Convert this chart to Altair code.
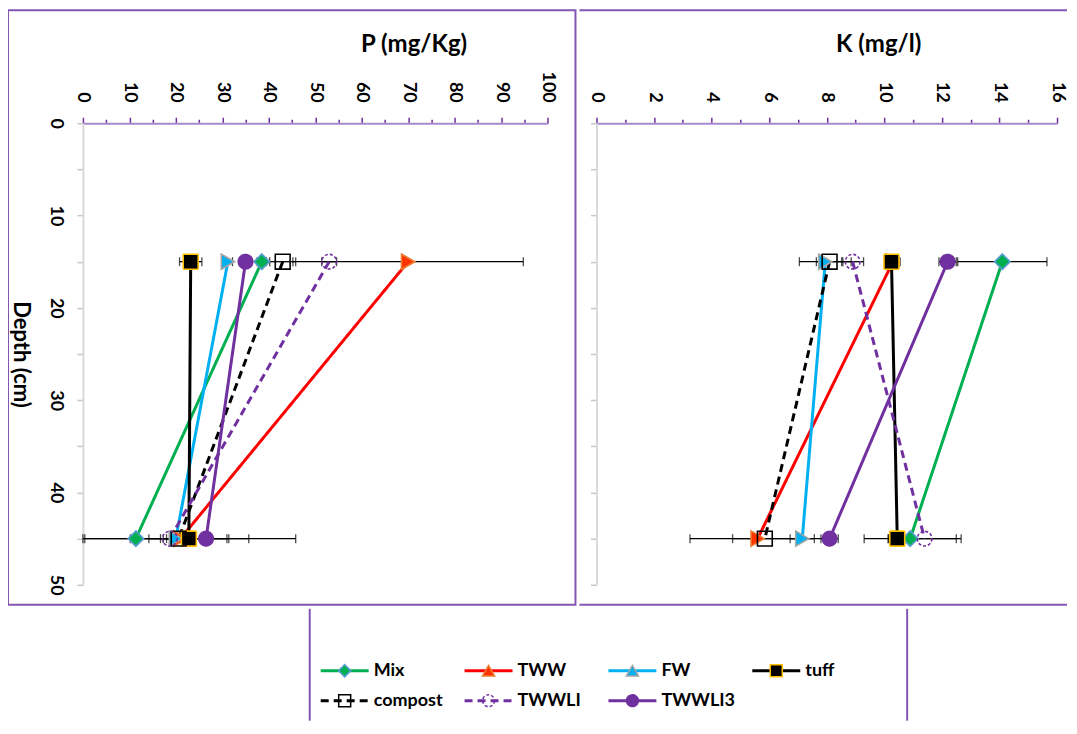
import altair as alt
import pandas as pd

# ---------------- data ----------------
series = ["Mix", "TWW", "FW", "tuff", "compost", "TWWLI", "TWWLI3"]
depths = [15, 45]

p_15 = [38.5, 70.0, 31.2, 23.2, 43.0, 53.0, 35.0]
p_45 = [11.4, 21.0, 20.0, 22.8, 20.6, 18.7, 26.5]
p_err_15 = [1.0, 24.8, 1.0, 2.4, 2.8, 1.6, 1.0]
p_err_45 = [11.0, 24.8, 2.0, 8.6, 10.4, 2.0, 9.2]

k_15 = [14.1, 10.3, 7.95, 10.25, 8.1, 8.9, 12.2]
k_45 = [10.9, 5.6, 7.15, 10.45, 5.85, 11.4, 8.1]
k_err_15 = [1.55, 0.25, 0.9, 0.2, 0.46, 0.38, 0.3]
k_err_45 = [1.6, 2.35, 0.42, 0.3, 1.12, 1.27, 0.3]

p_ticks = list(range(0, 101, 5))
k_ticks = list(range(0, 17))
depth_ticks = list(range(0, 51, 5))

legend_col = [0, 1, 2, 3, 0, 1, 2]
legend_row = [0, 0, 0, 0, 1, 1, 1]

# ---------------- styles ----------------
FONT = "Lato"
FRAME = "#8257B4"
line_colors = ["#00B050", "#FF0000", "#00B0F0", "#000000", "#000000", "#7030A0", "#7030A0"]
line_dash = [[1, 0], [1, 0], [1, 0], [1, 0], [8, 5], [8, 5], [1, 0]]
shapes = ["diamond", "triangle-right", "triangle-right", "square", "square", "circle", "circle"]
legend_shapes = ["diamond", "triangle-up", "triangle-up", "square", "square", "circle", "circle"]
fills = ["#00B050", "#FF3300", "#00B0F0", "#000000", "transparent", "transparent", "#7030A0"]
strokes = ["#5B9BD5", "#ED7D31", "#A5A5A5", "#FFC000", "#000000", "#7030A0", "#7030A0"]
sizes = [240, 210, 210, 260, 250, 280, 280]
legend_sizes = [150, 140, 140, 160, 150, 170, 170]


def build_df(v15, v45, e15, e45):
    recs = []
    for i, s in enumerate(series):
        for d, v, e in zip(depths, (v15[i], v45[i]), (e15[i], e45[i])):
            recs.append({"series": s, "depth": d, "value": v, "lo": v - e, "hi": v + e})
    return pd.DataFrame(recs)


p_df = build_df(p_15, p_45, p_err_15, p_err_45)
k_df = build_df(k_15, k_45, k_err_15, k_err_45)

color_scale = alt.Scale(domain=series, range=line_colors)
dash_scale = alt.Scale(domain=series, range=line_dash)
fill_scale = alt.Scale(domain=series, range=fills)
stroke_scale = alt.Scale(domain=series, range=strokes)
dummy = pd.DataFrame({"frame": [0]})


def panel(df, ticks, major, xmax, width, title, title_x, first):
    caps = df.melt(id_vars=["series", "depth"], value_vars=["lo", "hi"], value_name="end")
    xscale = alt.Scale(domain=[0, xmax], nice=False, clamp=True)
    yscale = alt.Scale(domain=[0, 50], reverse=True, nice=False)
    xaxis = alt.Axis(
        orient="top", values=ticks, grid=False,
        title=title, titleX=title_x, titleY=-79, titleAngle=0, titleAlign="center",
        titleBaseline="middle", titleFont=FONT, titleFontSize=24, titleFontWeight="bold",
        titleColor="black",
        labelExpr=f"datum.value % {major} === 0 ? datum.label : ''",
        labelAngle=90, labelAlign="right", labelBaseline="middle", labelPadding=15,
        labelFont=FONT, labelFontSize=18, labelFontWeight="bold", labelColor="black",
        labelFlush=False, labelOverlap=False,
        domainColor="#A88BCF", domainWidth=2, tickColor="#7030A0", tickWidth=1.5,
        tickSize={"condition": {"test": f"datum.value % {major} === 0", "value": 6}, "value": 4},
    )
    yaxis = alt.Axis(
        orient="left", values=depth_ticks, grid=False, labels=first,
        title="Depth (cm)" if first else "", titleX=-62, titleY=231, titleAngle=90,
        titleAlign="center", titleBaseline="middle", titleFont=FONT, titleFontSize=22,
        titleFontWeight="bold", titleColor="black",
        labelExpr="datum.value % 10 === 0 ? datum.label : ''",
        labelAngle=90, labelAlign="center", labelBaseline="top", labelPadding=12,
        labelFont=FONT, labelFontSize=18, labelFontWeight="bold", labelColor="black",
        labelFlush=False, labelOverlap=False,
        domainColor="#D9D9D9", domainWidth=2, tickColor="#C8C8C8", tickWidth=1.5, tickSize=6,
    )
    y = alt.Y("depth:Q", scale=yscale, axis=yaxis)

    if first:
        frame = alt.Chart(dummy).mark_rect(fillOpacity=0, stroke=FRAME, strokeWidth=2).encode(
            x=alt.value(-75), x2=alt.value(width + 28), y=alt.value(-113), y2=alt.value(482)
        )
        frames = [frame]
    else:
        top = alt.Chart(dummy).mark_rule(color=FRAME, strokeWidth=2).encode(
            x=alt.value(-17), x2=alt.value(471), y=alt.value(-113)
        )
        bottom = alt.Chart(dummy).mark_rule(color=FRAME, strokeWidth=2).encode(
            x=alt.value(-17), x2=alt.value(471), y=alt.value(482)
        )
        frames = [top, bottom]

    bars = alt.Chart(df).mark_rule(color="black", strokeWidth=1.3).encode(
        x=alt.X("lo:Q", scale=xscale, axis=xaxis), x2="hi:Q", y=y
    )
    cap = alt.Chart(caps).mark_tick(orient="vertical", color="black", size=9, thickness=1.3).encode(
        x=alt.X("end:Q", scale=xscale, axis=xaxis), y=y
    )
    lines = alt.Chart(df).mark_line(strokeWidth=3).encode(
        x=alt.X("value:Q", scale=xscale, axis=xaxis), y=y,
        color=alt.Color("series:N", scale=color_scale, legend=None),
        strokeDash=alt.StrokeDash("series:N", scale=dash_scale, legend=None),
        order=alt.Order("depth:Q"),
    )
    pts = alt.Chart(df).mark_point(filled=True, opacity=1, strokeWidth=1.6).encode(
        x=alt.X("value:Q", scale=xscale, axis=xaxis), y=y,
        shape=alt.Shape("series:N", scale=alt.Scale(domain=series, range=shapes), legend=None),
        fill=alt.Fill("series:N", scale=fill_scale, legend=None),
        stroke=alt.Stroke("series:N", scale=stroke_scale, legend=None),
        size=alt.Size("series:O", scale=alt.Scale(domain=series, range=sizes), legend=None),
        strokeDash=alt.condition(alt.datum.series == "TWWLI", alt.value([3, 2]), alt.value([1, 0])),
    )
    return alt.layer(*frames, bars, cap, lines, pts).properties(width=width, height=462)


p_chart = panel(p_df, p_ticks, 10, 100, 465, "P (mg/Kg)", 331, True)
k_chart = panel(k_df, k_ticks, 2, 16, 461, "K (mg/l)", 282, False)

# ---------------- legend (origin aligned with the P plot area) ----------------
leg_df = pd.DataFrame({"series": series, "col": legend_col, "row": legend_row})
lx = alt.X("col:Q", scale=alt.Scale(domain=[0, 3], range=[238, 670]), axis=None)
ly = alt.Y("row:Q", scale=alt.Scale(domain=[0, 1], range=[62, 92]), axis=None)
LEG_H = 112

leg_lines = alt.Chart(leg_df).mark_rule(strokeWidth=3, x2Offset=48).encode(
    x=lx, x2="col:Q", y=ly,
    color=alt.Color("series:N", scale=color_scale, legend=None),
    strokeDash=alt.StrokeDash("series:N", scale=dash_scale, legend=None),
)
leg_pts = alt.Chart(leg_df).mark_point(filled=True, opacity=1, strokeWidth=1.5, xOffset=24).encode(
    x=lx, y=ly,
    shape=alt.Shape("series:N", scale=alt.Scale(domain=series, range=legend_shapes), legend=None),
    fill=alt.Fill("series:N", scale=fill_scale, legend=None),
    stroke=alt.Stroke("series:N", scale=stroke_scale, legend=None),
    size=alt.Size("series:O", scale=alt.Scale(domain=series, range=legend_sizes), legend=None),
    strokeDash=alt.condition(alt.datum.series == "TWWLI", alt.value([3, 2]), alt.value([1, 0])),
)
leg_text = alt.Chart(leg_df).mark_text(
    align="left", baseline="middle", dx=53, font=FONT, fontSize=18, fontWeight="bold", color="black"
).encode(x=lx, y=ly, text="series:N")
leg_left = alt.Chart(dummy).mark_rule(color=FRAME, strokeWidth=2).encode(
    x=alt.value(227), y=alt.value(0), y2=alt.value(LEG_H)
)
leg_right = alt.Chart(dummy).mark_rule(color=FRAME, strokeWidth=2).encode(
    x=alt.value(825), y=alt.value(0), y2=alt.value(LEG_H)
)
legend = alt.layer(leg_left, leg_right, leg_lines, leg_pts, leg_text).properties(width=830, height=LEG_H)

chart = (
    alt.vconcat(alt.hconcat(p_chart, k_chart, spacing=0), legend, spacing=0)
    .resolve_scale(shape="independent", size="independent")
    .properties(padding={"left": -2, "top": 0, "right": 0, "bottom": 0}, background="white")
    .configure_view(stroke="transparent")
)

chart.save("out.html", embed_options={"renderer": "svg", "actions": False})
